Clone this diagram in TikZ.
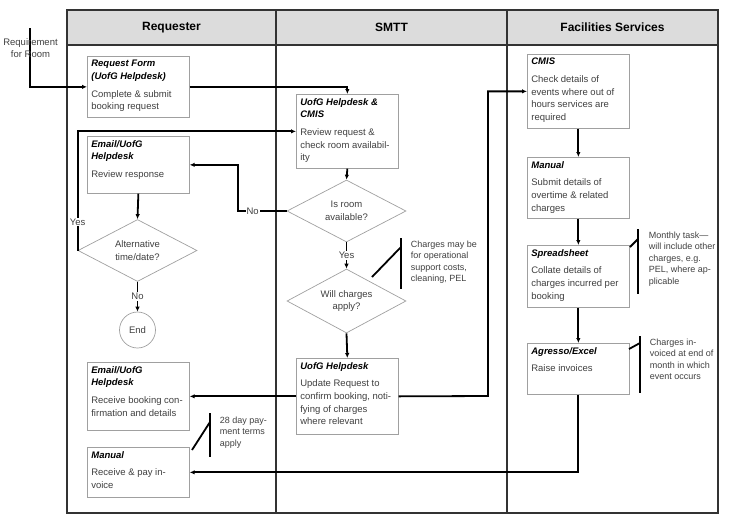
\documentclass[tikz,border=0pt]{standalone}
\usepackage{fontspec}
\setmainfont{Liberation Sans}
\usetikzlibrary{shapes.geometric,arrows.meta}

\definecolor{laneline}{HTML}{333333}
\definecolor{headfill}{HTML}{DCDCDC}
\definecolor{boxline}{HTML}{A0A0A0}
\definecolor{bodytext}{HTML}{404040}

% title + body of a task box, top aligned
\newcommand{\tasktext}[3]{\parbox[t][#1][t]{94pt}{\raggedright\textcolor{black}{\textbf{\textit{#2}}}\par\vspace{5pt}#3}}

\begin{document}
\begin{tikzpicture}[
                x=1pt,y=-1pt,
                line width=1.8pt,
                >={Latex[length=5pt,width=4.5pt]},
                lane/.style={draw=laneline,line width=2.2pt},
                head/.style={font=\fontsize{12}{14}\selectfont\bfseries},
                task/.style={draw=boxline,line width=0.7pt,fill=white,anchor=north west,inner sep=4pt,text=bodytext,font=\fontsize{9.5}{12.6}\selectfont},
                decision/.style={draw=boxline,line width=0.7pt,fill=white,diamond,aspect=2,inner sep=0pt,minimum width=119pt,minimum height=62pt,align=center,text=bodytext,font=\fontsize{9.5}{12.6}\selectfont},
                note/.style={anchor=north west,align=left,inner sep=0pt,text=bodytext,font=\fontsize{9}{11.5}\selectfont},
                flowlabel/.style={fill=white,inner sep=1pt,text=bodytext,font=\fontsize{9.5}{11}\selectfont}] %

                    \useasboundingbox (0,0) rectangle (750,531);

                    % lanes
                    \fill[headfill] (67,10) rectangle (718,45);
                    \draw[lane] (67,10) rectangle (718,513);
                    \draw[lane] (67,45) -- (718,45);
                    \draw[lane] (276,10) -- (276,513);
                    \draw[lane] (507,10) -- (507,513);

                    \node[head] (HeadRequester) at (171.5,27.5) {Requester};
                    \node[head] (HeadSMTT) at (391.5,27.5) {SMTT};
                    \node[head] (HeadFacilities) at (612.5,27.5) {Facilities Services};


                    % Requester
                    \coordinate (ReqStart) at (30,28);
                    \node[task] (RequestForm) at (87,56) {\tasktext{53pt}{Request Form\\(UofG Helpdesk)}{Complete \& submit\\booking request}}; % 1
                    \node[task] (ReviewResponse) at (87,136) {\tasktext{49pt}{Email/UofG\\Helpdesk}{Review response}}; % 2
                    \node[decision] (Alternative) at (137.5,250.5) {Alternative\\time/date?};
                    \node[draw=boxline,line width=0.7pt,circle,minimum size=36pt,inner sep=0pt,text=bodytext,font=\fontsize{9.5}{11}\selectfont] (End) at (137.5,330) {End};
                    \node[task] (ReceiveConfirm) at (87,362) {\tasktext{60pt}{Email/UofG\\Helpdesk}{Receive booking con-\\firmation and details}}; % 3
                    \node[task] (ReceivePay) at (87,447) {\tasktext{42pt}{Manual}{Receive \& pay in-\\voice}}; % 4


                    % SMTT
                    \node[task] (ReviewRequest) at (296,94) {\tasktext{66pt}{UofG Helpdesk \&\\CMIS}{Review request \&\\check room availabil-\\ity}}; % 1
                    \node[decision] (IsRoom) at (346.5,211) {Is room\\available?};
                    \node[decision,minimum height=64pt] (WillCharges) at (346.5,301) {Will charges\\apply?};
                    \node[task] (UpdateRequest) at (296,358) {\tasktext{68pt}{UofG Helpdesk}{Update Request to\\confirm booking, noti-\\fying of charges\\where relevant}}; % 2


                    % Facilities Services
                    \node[task] (CheckDetails) at (527,54) {\tasktext{66pt}{CMIS}{Check details of\\events where out of\\hours services are\\required}}; % 1
                    \node[task] (SubmitDetails) at (527,157) {\tasktext{53pt}{Manual}{Submit details of\\overtime \& related\\charges}}; % 2
                    \node[task] (Collate) at (527,245) {\tasktext{54pt}{Spreadsheet}{Collate details of\\charges incurred per\\booking}}; % 3
                    \node[task] (RaiseInvoices) at (527,343) {\tasktext{43pt}{Agresso/Excel}{Raise invoices}}; % 4


                    % connectors
                    \draw[->] (ReqStart) |- (RequestForm.west);
                    \node[text=bodytext,align=center,inner sep=0pt,font=\fontsize{9.5}{12}\selectfont] (ReqLabel) at (30.5,48) {Requirement\\for Room};

                    \draw[->] (RequestForm.east) -| (ReviewRequest.north);
                    \draw[->] (ReviewRequest.south) to (IsRoom.north);
                    \coordinate (NoTurn) at (238,211);
                    \draw[->] (IsRoom.west) -- node[flowlabel,pos=0.7] {No} (NoTurn) |- (ReviewResponse.east);
                    \draw[->] (ReviewResponse.south) to (Alternative.north);
                    \draw[->] (Alternative.west) |- node[flowlabel,pos=0.12] {Yes} (ReviewRequest.west);
                    \draw[->] (Alternative.south) to node[flowlabel] {No} (End.north);
                    \draw[->] (IsRoom.south) to node[flowlabel] {Yes} (WillCharges.north);
                    \draw[->] (WillCharges.south) to (UpdateRequest.north);
                    \draw[->] (UpdateRequest.west) to (ReceiveConfirm.east);
                    \coordinate (FacTurn) at (488,396);
                    \draw[->] (UpdateRequest.east) -- (FacTurn) |- (CheckDetails.west);
                    \draw[->] (CheckDetails.south) to (SubmitDetails.north);
                    \draw[->] (SubmitDetails.south) to (Collate.north);
                    \draw[->] (Collate.south) to (RaiseInvoices.north);
                    \draw[->] (RaiseInvoices.south) |- (ReceivePay.east);


                    % notes
                    \draw (401,238) -- (401,289);
                    \draw (401,247) -- (372,277);
                    \node[note] (NoteCharges) at (410,240) {Charges may be\\for operational\\support costs,\\cleaning, PEL};

                    \draw (638,229) -- (638,294);
                    \draw (638,239) -- (630,247);
                    \node[note] (NoteMonthly) at (648,231) {Monthly task—\\will include other\\charges, e.g.\\PEL, where ap-\\plicable};

                    \draw (640,336) -- (640,393);
                    \draw (640,343) -- (629,349);
                    \node[note] (NoteInvoiced) at (649,338) {Charges in-\\voiced at end of\\month in which\\event occurs};

                    \draw (210,413) -- (210,457);
                    \draw (210,422) -- (192,450);
                    \node[note] (NoteTerms) at (219,416) {28 day pay-\\ment terms\\apply};

                    \end{tikzpicture}
\end{document}
